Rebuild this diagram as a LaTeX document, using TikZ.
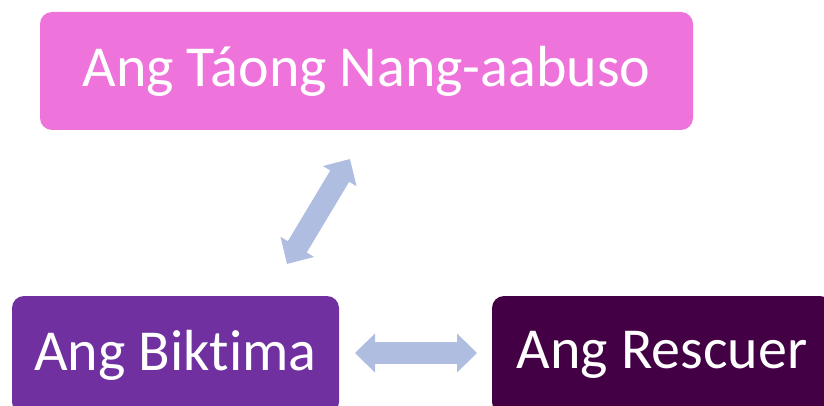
\documentclass[tikz,border=0pt]{standalone}
\usepackage{fontspec}
\setmainfont[Ligatures=NoCommon]{Carlito}
\usetikzlibrary{arrows.meta,calc}
\definecolor{pinkbox}{RGB}{238,116,220}
\definecolor{violetbox}{RGB}{112,48,160}
\definecolor{plumbox}{RGB}{68,0,69}
\definecolor{arrowblue}{RGB}{175,189,224}
\tikzset{
  rolebox/.style={rounded corners=12pt, inner sep=0pt, text=white,
    font=\fontsize{58}{69}\selectfont, anchor=center},
  dblarrow/.style={draw=arrowblue, line width=22pt,
    {Triangle[length=20pt,width=38pt,fill=arrowblue]}-{Triangle[length=20pt,width=38pt,fill=arrowblue]}},
}
\begin{document}
\begin{tikzpicture}[x=1pt,y=-1pt]
\useasboundingbox (0,0) rectangle (824,406);
\clip (0,0) rectangle (824,406);
\node[rolebox, fill=pinkbox, minimum width=653pt, minimum height=118pt] (abuser) at (366.5,71) {Ang Táong Nang-aabuso};
\node[rolebox, fill=violetbox, minimum width=327pt, minimum height=118pt] (victim) at (175.5,355) {Ang Biktima};
\node[rolebox, fill=plumbox, minimum width=340pt, minimum height=118pt] (rescuer) at (662,355) {Ang Rescuer};
\coordinate (v1) at (287,264);
\coordinate (a1) at (350,159);
\coordinate (v2) at (355,353);
\coordinate (r2) at (477,353);
\draw[dblarrow] (v1) -- (a1);
\draw[dblarrow] (v2) -- (r2);
\end{tikzpicture}
\end{document}
